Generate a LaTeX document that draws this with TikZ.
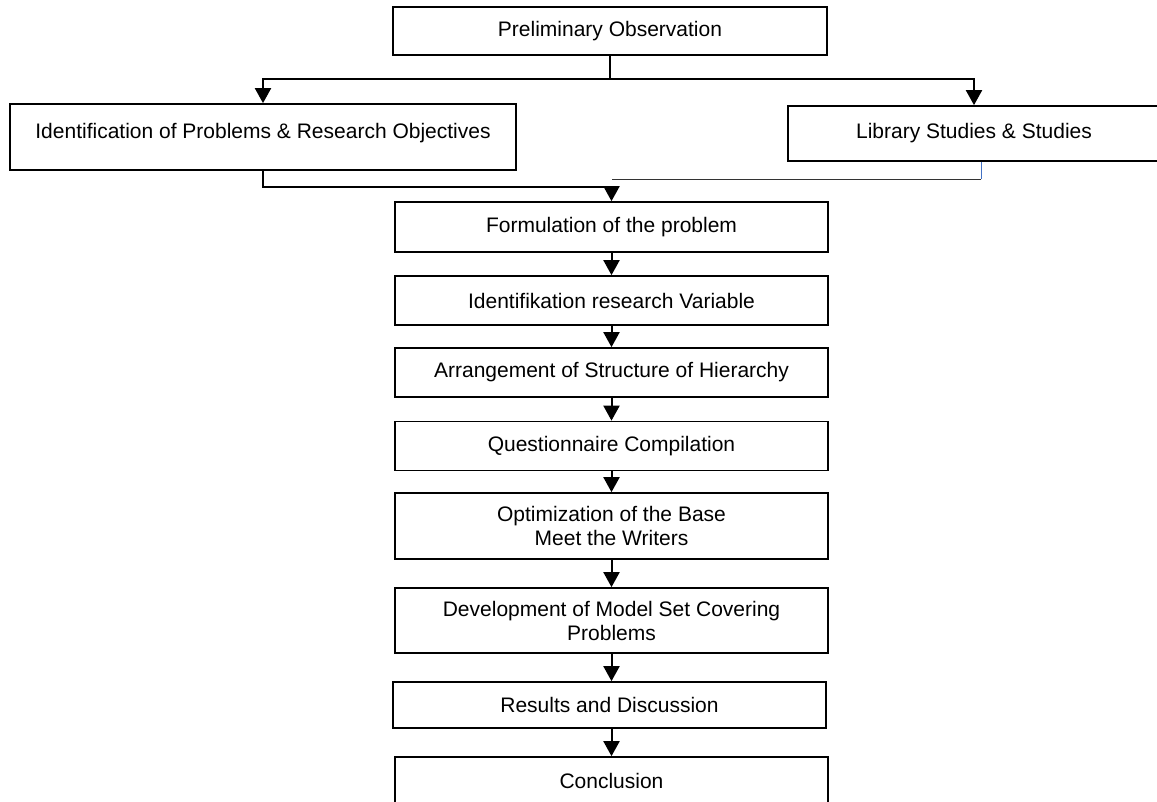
\documentclass[tikz,border=0pt]{standalone}
\usepackage{fontspec}
\setmainfont{Liberation Sans}
\usetikzlibrary{arrows.meta}
\definecolor{linkblue}{RGB}{68,114,196}
\tikzset{
  box/.style={draw, line width=0.85pt, minimum width=216.5pt, minimum height=24.5pt,
    inner sep=2pt, align=center, font=\fontsize{10.5}{12}\selectfont},
  flow/.style={line width=1pt, -{Triangle[length=7.5pt,width=8pt]}},
  link/.style={line width=1pt},
  thinlink/.style={line width=0.4pt, black!80}
}
\begin{document}
\begin{tikzpicture}[x=0.5pt,y=-0.5pt]
  \useasboundingbox (0,0) rectangle (1157,802);
  % top row
  \node[box, minimum width=217pt, minimum height=24pt] (prelim) at (610,31) {Preliminary Observation};
  \node[box, minimum width=253pt, minimum height=33pt, text depth=6pt] (probobj) at (263,137) {Identification of Problems \& Research Objectives};
  \node[box, minimum width=186pt, minimum height=27.5pt] (library) at (974,133.5) {Library Studies \& Studies};
  % main column
  \node[box, minimum height=25pt] (formul) at (611.5,227) {Formulation of the problem};
  \node[box] (resvar) at (611.5,300.5) {Identifikation research Variable};
  \node[box] (hierarchy) at (611.5,372.5) {Arrangement of Structure of Hierarchy};
  \node[box] (quest) at (611.5,446) {Questionnaire Compilation};
  \node[box, minimum height=33pt] (optim) at (611.5,526) {Optimization of the Base\\Meet the Writers};
  \node[box, minimum height=32.5pt] (setcover) at (611.5,620.5) {Development of Model Set Covering\\Problems};
  \node[box, minimum height=23pt] (results) at (609.5,705) {Results and Discussion};
  \node[box, minimum height=24pt] (conclu) at (611.5,781) {Conclusion};
  % connectors
  \coordinate (split) at (610,79);
  \coordinate (merge) at (611.5,187);
  \coordinate (libcorner) at (981,179);
  \coordinate (libend) at (611.5,179);
  \draw[link] (prelim.south) -- (split);
  \draw[flow] (split) -| (probobj.north);
  \draw[flow] (split) -| (library.north);
  \draw[flow] (probobj.south) |- (merge) -- (formul.north);
  \draw[line width=0.4pt, linkblue] (library.south -| libcorner) -- (libcorner);
  \draw[thinlink] (libcorner) -- (libend);
  \foreach \a/\b in {formul/resvar, resvar/hierarchy, hierarchy/quest, quest/optim,
      optim/setcover, setcover/results, results/conclu}
    \draw[flow] (\a.south -| formul) -- (\b.north -| formul);
\end{tikzpicture}
\end{document}
